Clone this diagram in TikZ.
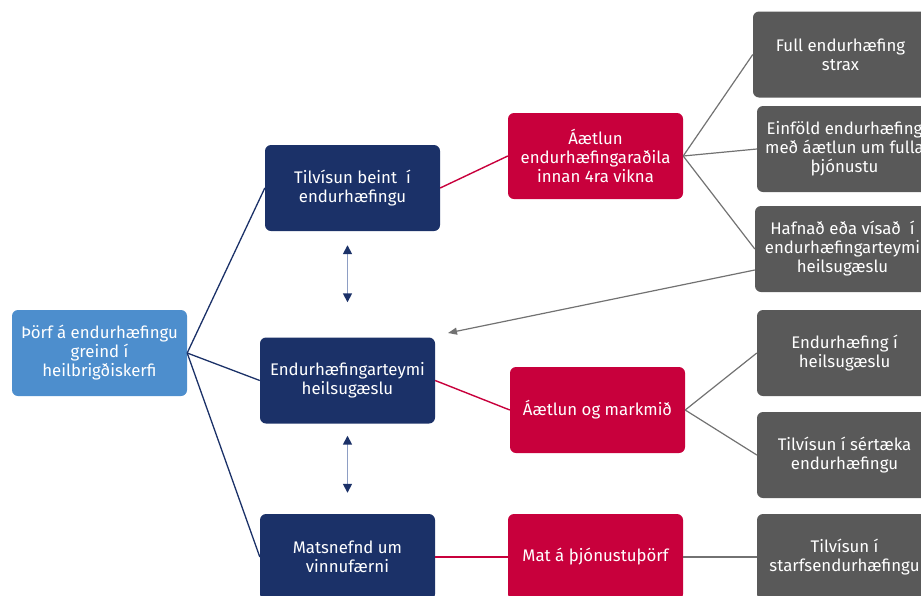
\documentclass[tikz,border=0pt]{standalone}
\usepackage{fontspec}
\setmainfont{Fira Sans}
\usepackage{xcolor}
\usetikzlibrary{positioning,arrows.meta}

\definecolor{srcblue}{HTML}{4D8ECD}
\definecolor{navy}{HTML}{1B3168}
\definecolor{crimson}{HTML}{C8003C}
\definecolor{slate}{HTML}{595959}
\definecolor{paleblue}{HTML}{8E9EC4}

\begin{document}
\begin{tikzpicture}[x=1pt, y=-1pt,
		box/.style={rectangle, rounded corners=6pt, minimum width=175pt, minimum height=86pt,
			inner sep=2pt, align=center, text=white, font=\fontsize{16.8}{19}\selectfont},
		source/.style={box, fill=srcblue},
		team/.style={box, fill=navy},
		plan/.style={box, fill=crimson},
		outcome/.style={box, fill=slate},
		navyline/.style={draw=navy, line width=1.3pt},
		redline/.style={draw=crimson, line width=1.4pt},
		grayline/.style={draw=slate!85, line width=1.2pt},
		twoway/.style={draw=paleblue, line width=1.6pt, {Triangle[color=navy,length=9pt,width=9pt]}-{Triangle[color=navy,length=9pt,width=9pt]}},
		backarrow/.style={draw=slate!85, line width=1.2pt, -{Triangle[length=9pt,width=7pt]}}]
		\clip (0,0) rectangle (921,595);

		\node[source] (src) at (99.5,353) {Þörf á endurhæfingu\\greind í\\heilbrigðiskerfi};

		\node[team] (t1) at (352.5,188) {Tilvísun beint\ \ í\\endurhæfingu};
		\node[team] (t2) at (347.5,380.5) {Endurhæfingarteymi\\heilsugæslu};
		\node[team] (t3) at (347.5,557) {Matsnefnd um\\vinnufærni};

		\node[plan] (r1) at (595.5,156) {Áætlun\\endurhæfingaraðila\\innan 4ra vikna};
		\node[plan] (r2) at (597.5,410) {Áætlun og markmið};
		\node[plan] (r3) at (595.5,557) {Mat á þjónustuþörf};

		\node[outcome] (g1) at (840.5,54.5) {Full endurhæfing\\strax};
		\node[outcome] (g2) at (844.5,149) {Einföld endurhæfing\\með áætlun um fulla\\þjónustu};
		\node[outcome] (g3) at (842.5,249) {Hafnað eða vísað\ \ í\\endurhæfingarteymi\\heilsugæslu};
		\node[outcome] (g4) at (844.5,353) {Endurhæfing í\\heilsugæslu};
		\node[outcome] (g5) at (844.5,455) {Tilvísun í sértæka\\endurhæfingu};
		\node[outcome] (g6) at (844.5,557) {Tilvísun í\\starfsendurhæfingu};

		\coordinate (back) at (448,333);

		\path[navyline] (src.east) edge (t1.west);
		\path[navyline] (src.east) edge (t2.west);
		\path[navyline] (src.east) edge (t3.west);

		\path[redline] (t1.east) edge (r1.west);
		\path[redline] (t2.east) edge (r2.west);
		\path[redline] (t3.east) edge (r3.west);

		\path[grayline] (r1.east) edge (g1.west);
		\path[grayline] (r1.east) edge (g2.west);
		\path[grayline] (r1.east) edge (g3.west);
		\path[grayline] (r2.east) edge (g4.west);
		\path[grayline] (r2.east) edge (g5.west);
		\path[grayline] (r3.east) edge (g6.west);

		\draw[twoway, shorten <=14pt, shorten >=35pt] (t2.north |- t1.south) -- (t2.north);
		\draw[twoway, shorten <=12pt, shorten >=21pt] (t2.south) -- (t3.north);

		\draw[backarrow] ([yshift=-21pt]g3.west) -- (back);
	\end{tikzpicture}
\end{document}
